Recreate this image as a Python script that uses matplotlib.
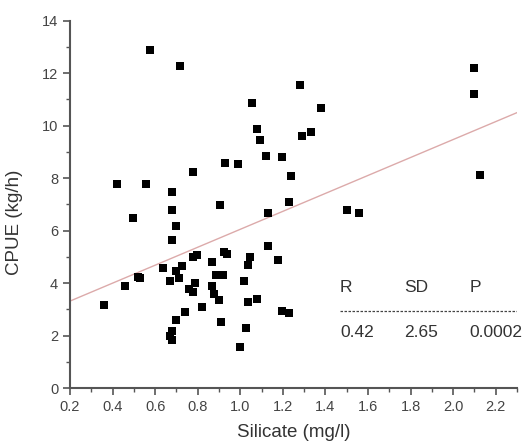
import matplotlib
matplotlib.use("Agg")
import matplotlib.pyplot as plt
from matplotlib.ticker import MultipleLocator
import numpy as np

plt.rcParams['font.family'] = ['Liberation Sans', 'DejaVu Sans']

# data
silicate = [0.576, 0.718, 1.056, 1.078, 1.094, 0.42, 0.558, 0.678, 0.777, 0.93,
            0.987, 0.906, 0.678, 0.498, 2.10, 2.10, 2.128, 1.279, 1.378, 1.288,
            1.331, 1.119, 1.198, 1.24, 1.229, 1.13, 1.50, 1.559, 0.36, 0.459,
            0.519, 0.53, 0.639, 0.678, 0.697, 0.668, 0.697, 0.71, 0.728, 0.777,
            0.799, 0.867, 0.925, 0.937, 1.047, 1.036, 0.887, 0.918, 1.078, 1.036,
            1.019, 0.757, 0.777, 0.788, 0.867, 0.878, 0.898, 0.82, 0.741, 0.699,
            0.909, 1.028, 0.678, 0.668, 0.678, 0.997, 1.132, 1.177, 1.198, 1.229]
cpue = [12.89, 12.28, 10.88, 9.87, 9.45, 7.76, 7.76, 7.47, 8.22, 8.58,
        8.54, 6.97, 6.77, 6.49, 12.21, 11.21, 8.11, 11.55, 10.69, 9.59,
        9.77, 8.84, 8.79, 8.08, 7.08, 6.69, 6.78, 6.69, 3.18, 3.87,
        4.22, 4.19, 4.58, 5.63, 6.16, 4.09, 4.45, 4.19, 4.64, 4.99,
        5.08, 4.82, 5.18, 5.09, 5.00, 4.68, 4.31, 4.29, 3.39, 3.28,
        4.08, 3.76, 3.66, 3.99, 3.88, 3.58, 3.37, 3.09, 2.90, 2.58,
        2.50, 2.27, 2.18, 2.00, 1.82, 1.57, 5.40, 4.89, 2.92, 2.86]

# fitted line as drawn
fit_slope = 3.42
fit_intercept = 2.63
fit_x = [0.2, 2.3]

stat_names = ["R", "SD", "P"]
stat_values = ["0.42", "2.65", "0.0002"]
stat_x = [1.468, 1.77, 2.076]

fig = plt.figure(figsize=(5.24, 4.45), dpi=100)
ax = fig.add_axes([0.1336, 0.128, 0.853, 0.8255])

ax.scatter(silicate, cpue, marker='s', s=34, color='black', linewidths=0, zorder=3)
fx = np.array(fit_x)
ax.plot(fx, fit_slope * fx + fit_intercept, color='#dcaaaa', lw=1.0, zorder=2)

for name, val, sx in zip(stat_names, stat_values, stat_x):
    ax.text(sx, 3.84, name, fontsize=12.5, color='#333333', va='center', ha='left')
    ax.text(sx, 2.13, val, fontsize=12.5, color='#333333', va='center', ha='left')
ax.plot([1.468, 2.3], [2.95, 2.95], color='#444444', lw=0.9, ls=(0, (2, 1.2)))

ax.set_xlim(0.2, 2.3)
ax.set_ylim(0, 14)
ax.xaxis.set_major_locator(MultipleLocator(0.2))
ax.xaxis.set_minor_locator(MultipleLocator(0.1))
ax.yaxis.set_major_locator(MultipleLocator(2))
ax.yaxis.set_minor_locator(MultipleLocator(1))
ax.xaxis.set_major_formatter(matplotlib.ticker.FormatStrFormatter('%.1f'))

for side in ['top', 'right']:
    ax.spines[side].set_visible(False)
for side in ['left', 'bottom']:
    ax.spines[side].set_color('#555555')
    ax.spines[side].set_linewidth(1.5)

ax.tick_params(which='major', direction='out', length=5, width=1.2, color='#555555',
               labelsize=10.5, labelcolor='#444444')
ax.tick_params(which='minor', direction='out', length=3, width=1.0, color='#555555')

ax.set_xlabel("Silicate (mg/l)", fontsize=13.5, color='#333333', labelpad=7)
ax.set_ylabel("CPUE (kg/h)", fontsize=13.5, color='#333333')
ax.yaxis.set_label_coords(-0.105, 0.45)

fig.savefig("out.png", dpi=100)
